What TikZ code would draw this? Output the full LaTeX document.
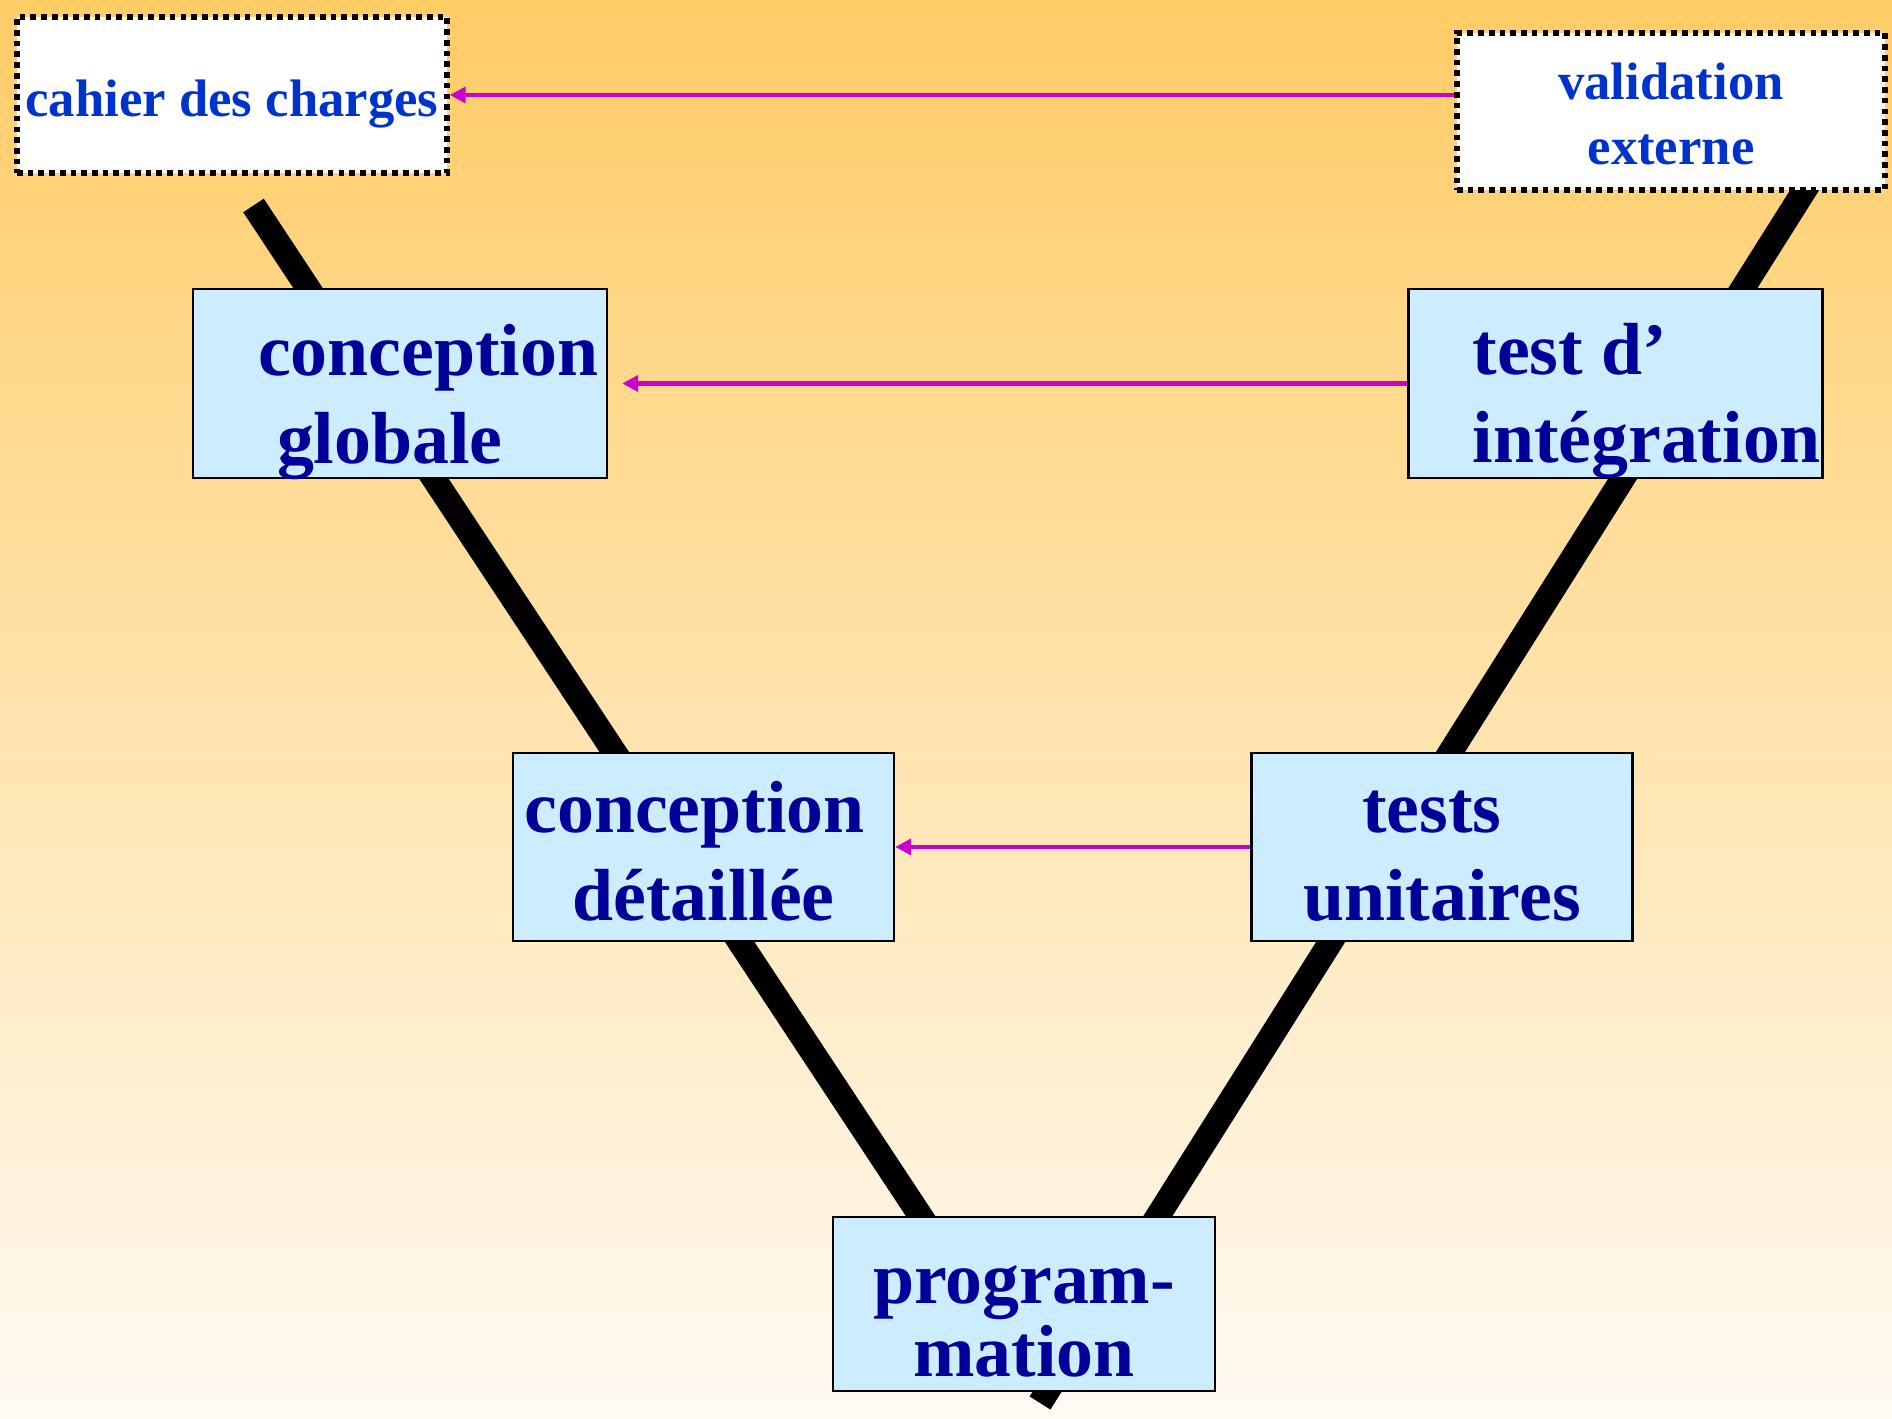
\documentclass[tikz,border=0pt]{standalone}
\usepackage{fontspec}
\setmainfont{Liberation Serif}
\usetikzlibrary{positioning, arrows.meta}

\definecolor{stagefill}{HTML}{CCECFF}
\definecolor{stagetext}{HTML}{000099}
\definecolor{spectext}{HTML}{0033CC}
\definecolor{linkcol}{HTML}{CC00CC}
\definecolor{bgtop}{HTML}{FFCC66}
\definecolor{bgbottom}{HTML}{FFFAF3}

\begin{document}
\begin{tikzpicture}[
    % --- stiluri ---
    stage/.style={
            draw=black,
            line width=0.7pt,
            fill=stagefill,
            text=stagetext,
            inner sep=0pt,
            font=\bfseries\fontsize{21}{25}\selectfont
        },
    spec/.style={
            draw=black,
            fill=white,
            line width=1.6pt,
            dash pattern=on 1.6pt off 1.45pt,
            text=spectext,
            inner sep=0pt,
            align=flush center,
            font=\bfseries\fontsize{15}{18.5}\selectfont
        },
    vline/.style={
            line width=7pt,
            color=black
        },
    backArrow/.style={
            -{Triangle[length=4.5pt, width=4.5pt]},
            line width=1.15pt,
            color=linkcol
        }
    ]

    % fond degrade
    \shade[top color=bgtop, bottom color=bgbottom] (0,0) rectangle (18.92,14.18);
    \useasboundingbox (0,0) rectangle (18.92,14.18);

    % 1. Le V (derriere les boites)
    \coordinate (vTL) at (2.535,12.125);
    \coordinate (vBL) at (10.255,0.43);
    \coordinate (vTR) at (18.11,12.38);
    \coordinate (vBR) at (10.40,0.15);
    \draw[vline] (vTL) -- (vBL);
    \draw[vline] (vTR) -- (vBR);

    % 2. Documents en haut
    \node[spec, text width=4.30cm, text height=1.00cm, text depth=0.56cm] (cahier) at (2.32,13.23) {cahier des charges};
    \node[spec, text width=4.28cm, text height=0.67cm, text depth=0.90cm] (valid) at (16.71,13.065) {validation\\externe};

    % 3. Etapes
    \node[stage, align=flush left, text width=2.84cm, inner xsep=0.65cm, text height=0.87cm, text depth=1.02cm] (glob) at (4.00,10.345) {conception\\\hspace*{0.19cm}globale};
    \node[stage, align=flush left, text width=2.86cm, inner xsep=0.64cm, text height=0.86cm, text depth=1.03cm, right=7.99cm of glob] (integ) {test d’\\intégration};

    \node[stage, align=flush center, text width=3.81cm, text height=0.80cm, text depth=1.08cm] (detail) at (7.035,5.71) {conception\hspace{0.18cm}\mbox{}\\détaillée};
    \node[stage, align=flush center, text width=3.81cm, text height=0.80cm, text depth=1.08cm, right=3.55cm of detail] (unit) {tests\hspace{0.2cm}\mbox{}\\unitaires};

    \node[stage, align=flush center, text width=3.82cm, text height=0.86cm, text depth=0.88cm, font=\bfseries\fontsize{21}{21}\selectfont] (prog) at (10.24,1.14) {program-\\mation};

    % 4. Retours
    \draw[backArrow] (valid.west |- cahier.east) -- (cahier.east);
    \draw[backArrow] (integ.west) -- ([xshift=0.14cm]glob.east);
    \draw[backArrow] (unit.west) -- (detail.east);

\end{tikzpicture}
\end{document}
